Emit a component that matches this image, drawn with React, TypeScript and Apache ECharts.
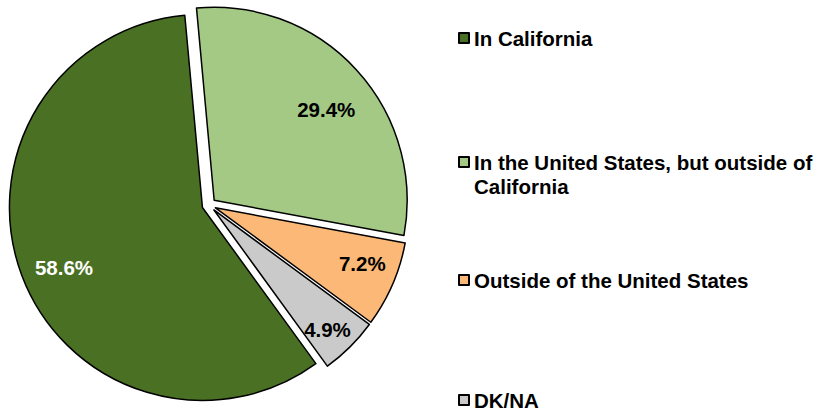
import React, { useEffect, useRef } from "react";
import * as echarts from "echarts";

const categories = [
  "In California",
  "In the United States, but outside of California",
  "Outside of the United States",
  "DK/NA",
];
const values = [58.6, 29.4, 7.2, 4.9];
const colors = ["#4A7023", "#A3C985", "#FBB877", "#CACACA"];
const labelColors = ["#FFFFFF", "#000000", "#000000", "#000000"];

// layout (not data)
const CX = 209;
const CY = 205;
const R = 193;
const OFFSET = 7;
const START_ANGLE = -54;
const LABEL_FRAC = [0.78, 0.75, 0.81, 0.85];
const LABEL_NUDGE = [
  [9, 5],
  [0, 12],
  [-3, -9],
  [-7, -2],
];
const LEGEND_CENTERS = [38, 162, 280, 400];
const FONT = "'Liberation Sans', Arial, sans-serif";

export default function App() {
  const ref = useRef<HTMLDivElement>(null);

  useEffect(() => {
    if (!ref.current) return;
    const chart = echarts.init(ref.current, undefined, { renderer: "svg" });
    const total = values.reduce((a, b) => a + b, 0);
    const cum: number[] = [];
    let acc = 0;
    values.forEach((v) => {
      cum.push(acc);
      acc += v;
    });

    const legends = categories.map((name, i) => {
      const multi = name.indexOf("outside of ") >= 0;
      return {
        orient: "vertical",
        left: 458,
        top: multi ? LEGEND_CENTERS[i] - 36 : LEGEND_CENTERS[i] - 11,
        padding: 0,
        itemWidth: 10,
        itemHeight: 10,
        itemGap: 0,
        icon: "rect",
        selectedMode: false,
        data: [name],
        formatter: (n: string) =>
          multi ? "\n" + n.replace("outside of ", "outside of\n") : n,
        textStyle: {
          fontFamily: FONT,
          fontWeight: "bold",
          fontSize: 20.5,
          color: "#000",
          lineHeight: multi ? 24 : 22,
        },
      };
    });

    const target = (i: number) => {
      const mid =
        ((START_ANGLE - ((cum[i] + values[i] / 2) / total) * 360) * Math.PI) / 180;
      const d = OFFSET + LABEL_FRAC[i] * R;
      return [
        CX + Math.cos(mid) * d + LABEL_NUDGE[i][0],
        CY - Math.sin(mid) * d + LABEL_NUDGE[i][1],
      ];
    };

    chart.setOption({
      animation: false,
      backgroundColor: "#FFFFFF",
      legend: legends,
      series: [
        {
          type: "pie",
          center: [CX, CY],
          radius: [0, R],
          startAngle: START_ANGLE,
          clockwise: true,
          selectedMode: "multiple",
          selectedOffset: OFFSET,
          avoidLabelOverlap: false,
          itemStyle: { borderColor: "#000000", borderWidth: 1.5 },
          label: {
            show: true,
            position: "inside",
            fontFamily: FONT,
            fontWeight: "bold",
            fontSize: 20.5,
            formatter: (p: any) => p.value.toFixed(1) + "%",
          },
          labelLine: { show: false },
          emphasis: { disabled: true },
          labelLayout: (params: any) => {
            const [tx, ty] = target(params.dataIndex);
            const r = params.labelRect;
            return {
              dx: tx - (r.x + r.width / 2),
              dy: ty - (r.y + r.height / 2),
            };
          },
          data: categories.map((name, i) => ({
            name,
            value: values[i],
            selected: true,
            itemStyle: { color: colors[i] },
            label: { color: labelColors[i] },
            select: { itemStyle: { color: colors[i], borderColor: "#000000", borderWidth: 1.5 } },
          })),
        },
      ],
    });
    return () => chart.dispose();
  }, []);

  return (
    <div
      ref={ref}
      style={{ position: "absolute", left: 0, top: 0, width: 825, height: 412 }}
    />
  );
}
